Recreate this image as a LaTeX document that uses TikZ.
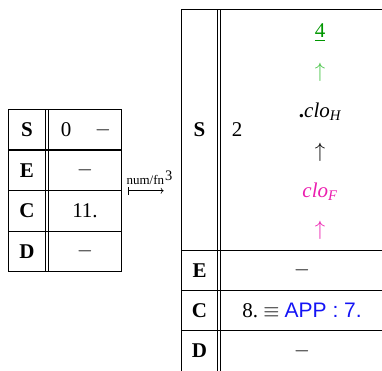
\documentclass[tikz,border=0pt]{standalone}
\usepackage{amsmath}
\usepackage{fontspec}
\setmainfont{Liberation Serif}
\setsansfont{Liberation Sans}
\usetikzlibrary{arrows.meta}
\definecolor{stackgreen}{RGB}{0,150,0}
\definecolor{arrgreen}{RGB}{70,195,70}
\definecolor{closmag}{RGB}{235,30,175}
\definecolor{appblue}{RGB}{20,20,245}
\tikzset{
  cell/.style={inner sep=0pt, font=\fontsize{21}{25}\selectfont},
  reg/.style={cell, font=\fontsize{21}{25}\selectfont\bfseries}
}
\begin{document}
\begin{tikzpicture}[x=1pt, y=-1pt, line width=1.1pt]
        \useasboundingbox (0, 0) rectangle (382, 370);
        \clip (0, 0) rectangle (382, 370);

        % left machine state
        \draw (8.3, 109.3) rectangle (121.3, 150);
        \draw (8.3, 150) rectangle (121.3, 190.7);
        \draw (8.3, 190.7) rectangle (121.3, 231.7);
        \draw (8.3, 231.7) rectangle (121.3, 271.7);
        \draw (45.5, 109.3) -- (45.5, 271.7);
        \draw (48.7, 109.3) -- (48.7, 271.7);

        \node[reg] (lS) at (27, 130) {S};
        \node[reg] (lE) at (27, 170.5) {E};
        \node[reg] (lC) at (27, 211) {C};
        \node[reg] (lD) at (27, 251.5) {D};
        \node[cell] (lS0) at (66, 130) {0};
        \node[cell] (lS1) at (103, 130) {$-$};
        \node[cell] (lEv) at (85, 170.5) {$-$};
        \node[cell] (lCv) at (85, 211) {11.};
        \node[cell] (lDv) at (85, 251.5) {$-$};

        % transition
        \node[inner sep=0pt, anchor=base, font=\fontsize{13}{15}\selectfont] (lbl) at (145.4, 184) {num/fn};
        \node[inner sep=0pt, anchor=base west, font=\fontsize{14.5}{17}\selectfont] (pow) at (164.6, 180) {3};
        \coordinate (arrL) at (127.5, 190.7);
        \coordinate (arrR) at (163.7, 190.7);
        \draw[line width=0.6pt, {Bar[width=8pt]}-{To[length=3pt, width=6pt]}] (arrL) -- (arrR);

        % right machine state
        \draw (383.5, 9.3) -- (181.5, 9.3) -- (181.5, 371);
        \draw (181.5, 250.5) -- (383.5, 250.5);
        \draw (181.5, 290.7) -- (383.5, 290.7);
        \draw (181.5, 330.7) -- (383.5, 330.7);
        \draw (217.7, 9.3) -- (217.7, 371);
        \draw (220.9, 9.3) -- (220.9, 371);

        \node[reg] (rS) at (199.5, 130) {S};
        \node[reg] (rE) at (199.5, 270.5) {E};
        \node[reg] (rC) at (199.5, 310.5) {C};
        \node[reg] (rD) at (199.5, 351) {D};
        \node[cell] (rS0) at (237, 130) {2};
        \node[cell, text=stackgreen] (top) at (320, 33) {\underline{4}};
        \node[cell, text=arrgreen] (up1) at (320, 72) {$\uparrow$};
        \node[cell] (cloH) at (320, 112) {\textbf{.}\textit{clo}$_{\textit{H}}$};
        \node[cell] (up2) at (320, 152) {$\uparrow$};
        \node[cell, text=closmag] (cloF) at (320, 192) {\textit{clo}$_{\textit{F}}$};
        \node[cell, text=closmag] (up3) at (320, 230) {$\uparrow$};
        \node[cell] (rEv) at (302, 270.5) {$-$};
        \node[cell] (rCv) at (302, 310.5) {8.~$\equiv$~\textcolor{appblue}{\sffamily APP : 7.}};
        \node[cell] (rDv) at (302, 351) {$-$};
    \end{tikzpicture}
\end{document}
